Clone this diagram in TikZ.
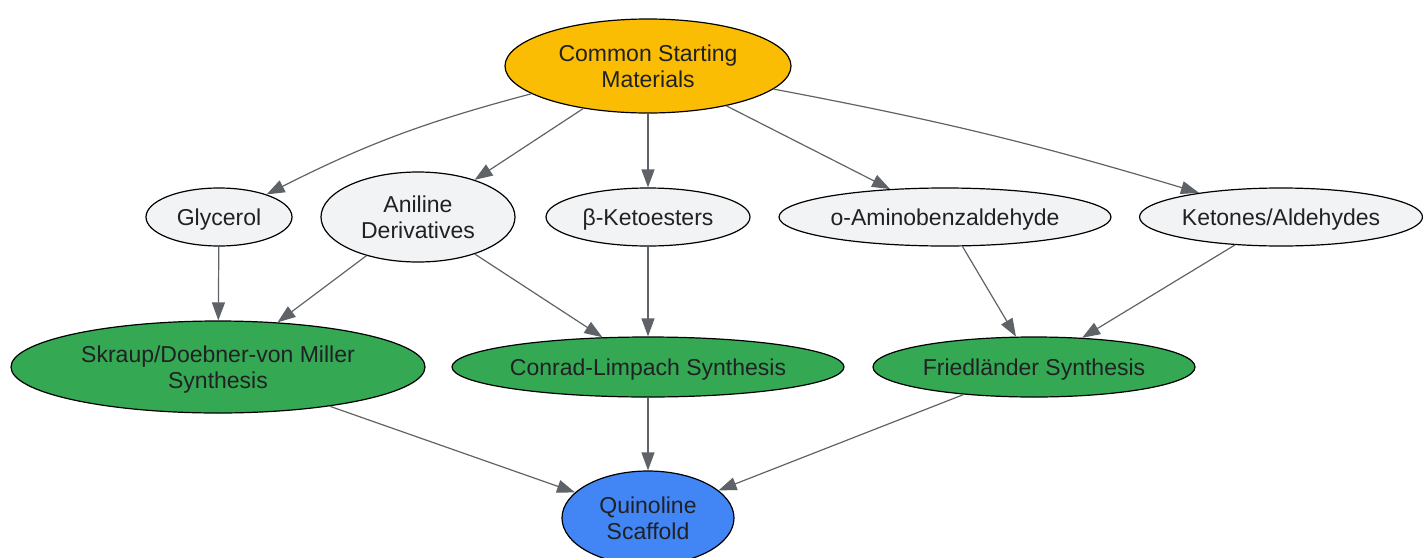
\documentclass[tikz,border=0pt]{standalone}
\usepackage{fontspec}
\setmainfont{Liberation Sans}
\usepackage{tikz}
\usetikzlibrary{shapes.geometric, arrows.meta}
\definecolor{startyellow}{HTML}{FBBC04}
\definecolor{reagentgray}{HTML}{F1F3F4}
\definecolor{synthgreen}{HTML}{34A853}
\definecolor{targetblue}{HTML}{4285F4}
\definecolor{edgegray}{HTML}{5F6368}
\definecolor{textgray}{HTML}{202124}
\begin{document}
\begin{tikzpicture}[x=1pt, y=-1pt, font=\fontsize{23}{26}\selectfont,
  main/.style = {draw, ellipse, line width=1.2pt, inner sep=0pt, align=center, text=textgray, text height=16pt, text depth=0pt},
  twoline/.style = {text height={}, text depth={}},
  start/.style = {main, fill=startyellow},
  reagent/.style = {main, fill=reagentgray, minimum height=58pt},
  synth/.style = {main, fill=synthgreen},
  target/.style = {main, fill=targetblue},
  arr/.style = {-{Triangle[length=18pt, width=13pt]}, draw=edgegray, line width=1.2pt},
  node distance=151pt]
\useasboundingbox (0,0) rectangle (1423,557);
\node[start, twoline, minimum width=286pt, minimum height=94pt] (1) at (648,66) {Common Starting\\Materials};
\node[reagent, minimum width=204pt] (4) [below of=1] {β-Ketoesters};
\node[reagent, twoline, minimum width=194pt, minimum height=90pt] (3) [left of=4, node distance=230pt] {Aniline\\Derivatives};
\node[reagent, minimum width=146pt] (2) [left of=3, node distance=199pt] {Glycerol};
\node[reagent, minimum width=332pt] (5) [right of=4, node distance=297pt] {o-Aminobenzaldehyde};
\node[reagent, minimum width=283pt] (6) [right of=5, node distance=336pt] {Ketones/Aldehydes};
\node[synth, minimum width=392pt, minimum height=60pt] (8) [below of=4, node distance=150pt] {Conrad-Limpach Synthesis};
\node[synth, twoline, minimum width=414pt, minimum height=92pt] (7) [left of=8, node distance=430pt] {Skraup/Doebner-von Miller\\S\smash{y}nthesis};
\node[synth, minimum width=322pt, minimum height=60pt] (9) [right of=8, node distance=386pt] {Friedländer Synthesis};
\node[target, twoline, minimum width=172pt, minimum height=94pt] (10) [below of=8] {Quinoline\\Scaffold};
\draw[arr] (1) to[bend right=6] (2);
\draw[arr] (1) -- (3);
\draw[arr] (1) -- (4);
\draw[arr] (1) -- (5);
\draw[arr] (1) to[bend left=3] (6);
\draw[arr] (2) -- (7);
\draw[arr] (3) -- (7);
\draw[arr] (3) -- (8);
\draw[arr] (4) -- (8);
\draw[arr] (5) -- (9);
\draw[arr] (6) -- (9);
\draw[arr] (7) -- (10);
\draw[arr] (8) -- (10);
\draw[arr] (9) -- (10);
\end{tikzpicture}
\end{document}
